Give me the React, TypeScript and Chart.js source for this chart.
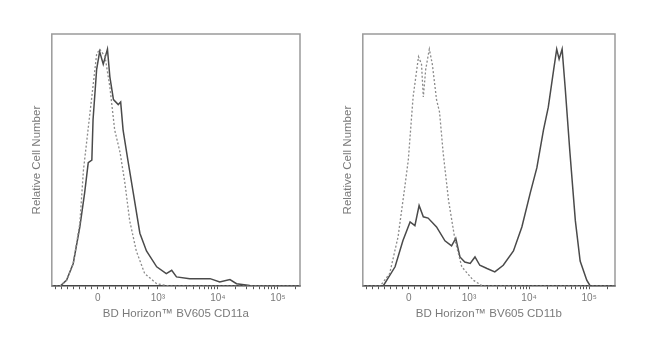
import React, { useEffect, useRef } from "react";
import { Chart, registerables } from "chart.js";
Chart.register(...registerables);

// axis: display units where 0 -> 0, 10^3 -> 1, 10^4 -> 2, 10^5 -> 3 (biexponential)
const tickValues = [0, 1, 2, 3];
const tickLabels = ["0", "10³", "10⁴", "10⁵"];
const minorTickValues = [
  -0.7, -0.6, -0.5, -0.4, -0.3, -0.2, -0.1, 0.1, 0.2, 0.3, 0.4, 0.5, 0.6, 0.7, 0.85,
  1.3, 1.48, 1.6, 1.7, 1.78, 1.85, 1.9, 1.95,
  2.3, 2.48, 2.6, 2.7, 2.78, 2.85, 2.9, 2.95, 3.3,
];

const yTitle = "Relative Cell Number";
const leftXTitle = "BD Horizon™ BV605 CD11a";
const rightXTitle = "BD Horizon™ BV605 CD11b";

// Left panel: CD11a (solid) and isotype (dotted)
const aSolidX = [-0.77, -0.63, -0.52, -0.41, -0.3, -0.22, -0.16, -0.1, -0.08, -0.02, 0.03, 0.09, 0.16, 0.2, 0.26, 0.34, 0.38, 0.42, 0.5, 0.59, 0.7, 0.81, 0.98, 1.14, 1.23, 1.31, 1.53, 1.87, 2.03, 2.2, 2.31, 2.53, 3.37];
const aSolidY = [0, 0, 0.024, 0.09, 0.235, 0.37, 0.49, 0.5, 0.66, 0.86, 0.93, 0.88, 0.94, 0.83, 0.74, 0.72, 0.73, 0.62, 0.5, 0.37, 0.21, 0.14, 0.077, 0.05, 0.063, 0.037, 0.03, 0.03, 0.017, 0.026, 0.01, 0.003, 0];
const aIsoX = [-0.77, -0.63, -0.52, -0.41, -0.3, -0.24, -0.13, -0.02, 0.03, 0.12, 0.2, 0.28, 0.37, 0.45, 0.53, 0.64, 0.78, 0.98, 1.2, 3.37];
const aIsoY = [0, 0, 0.024, 0.09, 0.25, 0.46, 0.69, 0.92, 0.94, 0.91, 0.79, 0.62, 0.53, 0.41, 0.26, 0.14, 0.05, 0.01, 0, 0];

// Right panel: CD11b (solid) and isotype (dotted)
const bSolidX = [-0.77, -0.43, -0.23, -0.1, 0.02, 0.1, 0.17, 0.24, 0.32, 0.46, 0.6, 0.71, 0.78, 0.85, 0.93, 1.02, 1.1, 1.18, 1.3, 1.43, 1.57, 1.74, 1.88, 2.02, 2.13, 2.24, 2.32, 2.41, 2.46, 2.5, 2.55, 2.6, 2.68, 2.77, 2.85, 2.96, 3.02, 3.43];
const bSolidY = [0, 0, 0.077, 0.18, 0.255, 0.24, 0.32, 0.275, 0.27, 0.235, 0.18, 0.16, 0.19, 0.116, 0.096, 0.09, 0.116, 0.083, 0.07, 0.057, 0.083, 0.14, 0.235, 0.37, 0.47, 0.62, 0.71, 0.86, 0.94, 0.9, 0.94, 0.79, 0.53, 0.26, 0.1, 0.024, 0, 0];
const bIsoX = [-0.77, -0.48, -0.32, -0.18, -0.07, -0.01, 0.07, 0.16, 0.21, 0.24, 0.28, 0.34, 0.39, 0.46, 0.51, 0.57, 0.66, 0.77, 0.88, 1.07, 1.23, 3.43];
const bIsoY = [0, 0, 0.05, 0.196, 0.39, 0.5, 0.75, 0.91, 0.88, 0.75, 0.86, 0.94, 0.88, 0.74, 0.69, 0.53, 0.34, 0.18, 0.077, 0.024, 0, 0];

const zip = (xs: number[], ys: number[]) => xs.map((x, i) => ({ x, y: ys[i] }));

const framePlugin = {
  id: "frame",
  beforeDatasetsDraw(chart: any) {
    const { ctx, chartArea: a } = chart;
    ctx.save();
    ctx.strokeStyle = "#9a9a9a";
    ctx.lineWidth = 1.5;
    ctx.beginPath();
    ctx.moveTo(a.left, a.bottom);
    ctx.lineTo(a.left, a.top);
    ctx.lineTo(a.right, a.top);
    ctx.lineTo(a.right, a.bottom);
    ctx.stroke();
    ctx.restore();
  },
};

type Props = {
  left: number;
  width: number;
  xMax: number;
  xTitle: string;
  solidX: number[];
  solidY: number[];
  isoX: number[];
  isoY: number[];
  padRight: number;
};

const FONT = "Liberation Sans, Arial";

function Histogram(p: Props) {
  const ref = useRef<HTMLCanvasElement>(null);
  useEffect(() => {
    const allTicks = [...tickValues, ...minorTickValues].sort((a, b) => a - b);
    const chart = new Chart(ref.current!, {
      type: "line",
      data: {
        datasets: [
          {
            data: zip(p.isoX, p.isoY),
            borderColor: "#8a8a8a",
            borderWidth: 1.3,
            borderDash: [2, 2],
            pointRadius: 0,
            tension: 0,
          },
          {
            data: zip(p.solidX, p.solidY),
            borderColor: "#4a4a4a",
            borderWidth: 1.5,
            pointRadius: 0,
            tension: 0,
          },
        ],
      },
      options: {
        responsive: false,
        animation: false,
        plugins: { legend: { display: false }, tooltip: { enabled: false } },
        layout: { padding: { left: 26, right: p.padRight, top: 34, bottom: 36 } },
        scales: {
          x: {
            type: "linear",
            min: -0.767,
            max: p.xMax,
            afterBuildTicks: (axis: any) => {
              axis.ticks = allTicks.map((v) => ({ value: v }));
            },
            ticks: {
              autoSkip: false,
              maxRotation: 0,
              padding: 3,
              color: "#7a7a7a",
              font: { family: FONT, size: 10 },
              callback: (v: any) => {
                const i = tickValues.indexOf(Number(v));
                return i >= 0 ? tickLabels[i] : "";
              },
            },
            grid: { drawOnChartArea: false, drawTicks: true, tickLength: 3, color: "#555" },
            border: { display: true, color: "#444", width: 1.5 },
            title: {
              display: true,
              text: p.xTitle,
              color: "#7a7a7a",
              font: { family: FONT, size: 11.5 },
              padding: { top: 0, bottom: 0 },
            },
          },
          y: {
            min: 0,
            max: 1,
            ticks: { display: false },
            grid: { display: false, drawTicks: false },
            border: { display: false },
            title: {
              display: true,
              text: yTitle,
              color: "#7a7a7a",
              font: { family: FONT, size: 11.5 },
              padding: { top: 4, bottom: 8 },
            },
          },
        },
      },
      plugins: [framePlugin],
    } as any);
    return () => chart.destroy();
  }, []);
  return (
    <canvas
      ref={ref}
      width={p.width}
      height={357}
      style={{ position: "absolute", left: p.left, top: 0, width: p.width, height: 357 }}
    />
  );
}

export default function App() {
  return (
    <div style={{ position: "fixed", left: 0, top: 0, width: 650, height: 357, background: "#fff" }}>
      <Histogram left={0} width={325} xMax={3.367} xTitle={leftXTitle} solidX={aSolidX} solidY={aSolidY} isoX={aIsoX} isoY={aIsoY} padRight={25} />
      <Histogram left={311} width={339} xMax={3.43} xTitle={rightXTitle} solidX={bSolidX} solidY={bSolidY} isoX={bIsoX} isoY={bIsoY} padRight={35} />
    </div>
  );
}
